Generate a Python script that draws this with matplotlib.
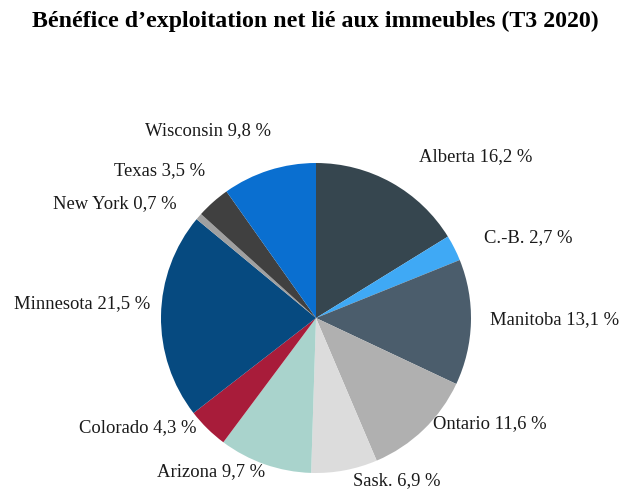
import matplotlib
matplotlib.use("Agg")
import matplotlib.pyplot as plt

plt.rcParams['font.family'] = ['Liberation Serif', 'DejaVu Serif']

regions = ["Alberta", "C.-B.", "Manitoba", "Ontario", "Sask.", "Arizona",
           "Colorado", "Minnesota", "New York", "Texas", "Wisconsin"]
shares = [16.2, 2.7, 13.1, 11.6, 6.9, 9.7, 4.3, 21.5, 0.7, 3.5, 9.8]
colors = ["#36464f", "#3fa9f5", "#4b5d6c", "#b0b0b0", "#dcdcdc", "#a9d3cc",
          "#a81c3a", "#064a80", "#a0a0a0", "#404040", "#0a6fd0"]

# label centres, in units of pie radius
label_pos = [(1.03, 1.04), (1.37, 0.52), (1.54, -0.01), (1.12, -0.68),
             (0.52, -1.05), (-0.68, -0.99), (-1.15, -0.71), (-1.51, 0.09),
             (-1.30, 0.74), (-1.01, 0.95), (-0.70, 1.21)]

fig = plt.figure(figsize=(6.31, 4.94), dpi=100)
ax = fig.add_axes([0, 0, 1, 1])
ax.pie(shares, colors=colors, startangle=90, counterclock=False,
       radius=1, wedgeprops=dict(linewidth=0))
ax.set_xlim(-316 / 155, 315 / 155)
ax.set_ylim(-176 / 155, 318 / 155)
ax.set_aspect('auto')
ax.axis('off')

for name, val, (x, y) in zip(regions, shares, label_pos):
    txt = name + " " + f"{val:.1f}".replace(".", ",") + " %"
    ax.text(x, y, txt, ha='center', va='center', fontsize=13.4, color='#1a1a1a')

fig.text(0.5, 1 - 21 / 494, "Bénéfice d’exploitation net lié aux immeubles (T3 2020)",
         ha='center', va='center', fontsize=17.2, fontweight='bold')

fig.savefig("out.png", dpi=100)
